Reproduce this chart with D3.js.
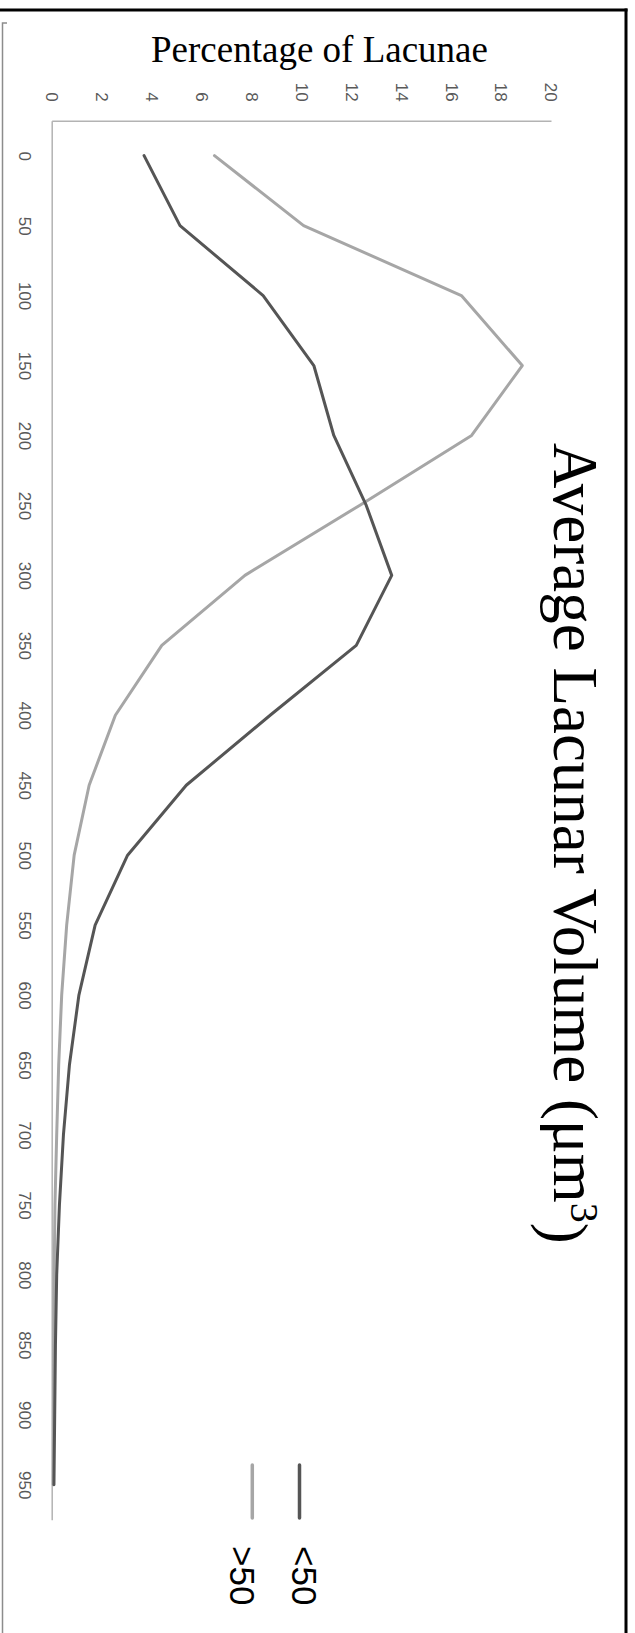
<!DOCTYPE html>
<html>
<head>
<meta charset="utf-8">
<script src="https://cdn.jsdelivr.net/npm/d3@7"></script>
<style>
  html, body { margin: 0; padding: 0; background: #fff; }
  svg { display: block; }
</style>
</head>
<body>
<svg id="chart" width="635" height="1633"></svg>
<script>
// Lacunar volume bins (µm³), one category per 50 µm³
const volumes = [0, 50, 100, 150, 200, 250, 300, 350, 400, 450, 500, 550, 600, 650, 700, 750, 800, 850, 900, 950];

// Percentage of lacunae in each volume bin
const lessThan50 = [3.7, 5.14, 8.47, 10.5, 11.3, 12.6, 13.62, 12.2, 8.75, 5.39, 3.04, 1.74, 1.09, 0.71, 0.47, 0.31, 0.2, 0.15, 0.12, 0.09];
const greaterThan50 = [6.52, 10.09, 16.41, 18.85, 16.82, 12.33, 7.74, 4.41, 2.55, 1.5, 0.9, 0.6, 0.4, 0.28, 0.2, 0.13, 0.1, 0.08, 0.07, 0.06];

const seriesNames = ["<50", ">50"];
const percentTicks = [0, 2, 4, 6, 8, 10, 12, 14, 16, 18, 20];

const svg = d3.select("#chart");
svg.append("rect").attr("width", 635).attr("height", 1633).attr("fill", "#fff");

// Frame
svg.append("line").attr("x1", 0).attr("x2", 627.5).attr("y1", 10).attr("y2", 10)
  .attr("stroke", "#000").attr("stroke-width", 3);
svg.append("line").attr("x1", 626).attr("x2", 626).attr("y1", 8.5).attr("y2", 1633)
  .attr("stroke", "#000").attr("stroke-width", 3);
svg.append("path").attr("d", "M7,23H2.5V1633")
  .attr("fill", "none").attr("stroke", "#8c8c8c").attr("stroke-width", 1.5);

// Scales: percentage runs left to right, volume runs top to bottom
const x = d3.scaleLinear().domain([0, 20]).range([51.7, 551]);
const y = d3.scalePoint().domain(volumes).range([120.7, 1519.7]).padding(0.5);

// Percentage axis (top)
const xAxis = svg.append("g")
  .attr("transform", `translate(0,${y.range()[0]})`)
  .call(d3.axisTop(x).tickValues(percentTicks).tickSize(0).tickSizeOuter(0));
xAxis.select(".domain").attr("stroke", "#b3b3b3").attr("stroke-width", 1.5);
xAxis.selectAll("text")
  .attr("x", 0).attr("y", 0).attr("dy", "0.36em")
  .attr("transform", "translate(0,-19) rotate(90)")
  .attr("text-anchor", "end")
  .attr("fill", "#595959")
  .style("font-family", "'Liberation Sans', Arial, sans-serif")
  .style("font-size", "17px");

// Volume axis (left)
const yAxis = svg.append("g")
  .attr("transform", `translate(${x(0)},0)`)
  .call(d3.axisLeft(y).tickSize(0).tickSizeOuter(0));
yAxis.select(".domain").attr("stroke", "#b3b3b3").attr("stroke-width", 1.5);
yAxis.selectAll("text")
  .attr("x", 0).attr("y", 0).attr("dy", "0.36em")
  .attr("transform", "translate(-27,0) rotate(90)")
  .attr("text-anchor", "middle")
  .attr("fill", "#595959")
  .style("font-family", "'Liberation Sans', Arial, sans-serif")
  .style("font-size", "17px");

// Series lines
const line = d3.line()
  .x(d => x(d.v))
  .y(d => y(d.vol));

const series = [
  { name: seriesNames[1], values: greaterThan50, color: "#a6a6a6" },
  { name: seriesNames[0], values: lessThan50, color: "#555555" }
];

series.forEach(s => {
  svg.append("path")
    .datum(volumes.map((vol, i) => ({ vol, v: s.values[i] })))
    .attr("d", line)
    .attr("fill", "none")
    .attr("stroke", s.color)
    .attr("stroke-width", 3)
    .attr("stroke-linejoin", "round")
    .attr("stroke-linecap", "round");
});

// Axis titles
svg.append("text")
  .attr("x", 319.5).attr("y", 61.7)
  .attr("text-anchor", "middle")
  .style("font-family", "'Liberation Serif', 'Times New Roman', serif")
  .style("font-size", "37px")
  .attr("fill", "#000")
  .text("Percentage of Lacunae");

const vTitle = svg.append("text")
  .attr("transform", "translate(554,443) rotate(90)")
  .attr("text-anchor", "start")
  .style("font-family", "'Liberation Serif', 'Times New Roman', serif")
  .style("font-size", "63px")
  .attr("fill", "#000");
vTitle.append("tspan").text("Average Lacunar Volume (μm");
vTitle.append("tspan").attr("dy", "-0.42em").style("font-size", "40px").text("3");
vTitle.append("tspan").attr("dy", "0.42em").text(")");

// Legend
const legend = [
  { name: seriesNames[0], color: "#555555", lx: 299.5, tx: 291.5 },
  { name: seriesNames[1], color: "#a6a6a6", lx: 252.3, tx: 230 }
];
legend.forEach(d => {
  svg.append("line")
    .attr("x1", d.lx).attr("x2", d.lx).attr("y1", 1465).attr("y2", 1518)
    .attr("stroke", d.color).attr("stroke-width", 3.5).attr("stroke-linecap", "round");
  svg.append("text")
    .attr("transform", `translate(${d.tx},1546) rotate(90)`)
    .attr("text-anchor", "start")
    .style("font-family", "'Liberation Sans', Arial, sans-serif")
    .style("font-size", "35px")
    .attr("fill", "#000")
    .text(d.name);
});
</script>
</body>
</html>
